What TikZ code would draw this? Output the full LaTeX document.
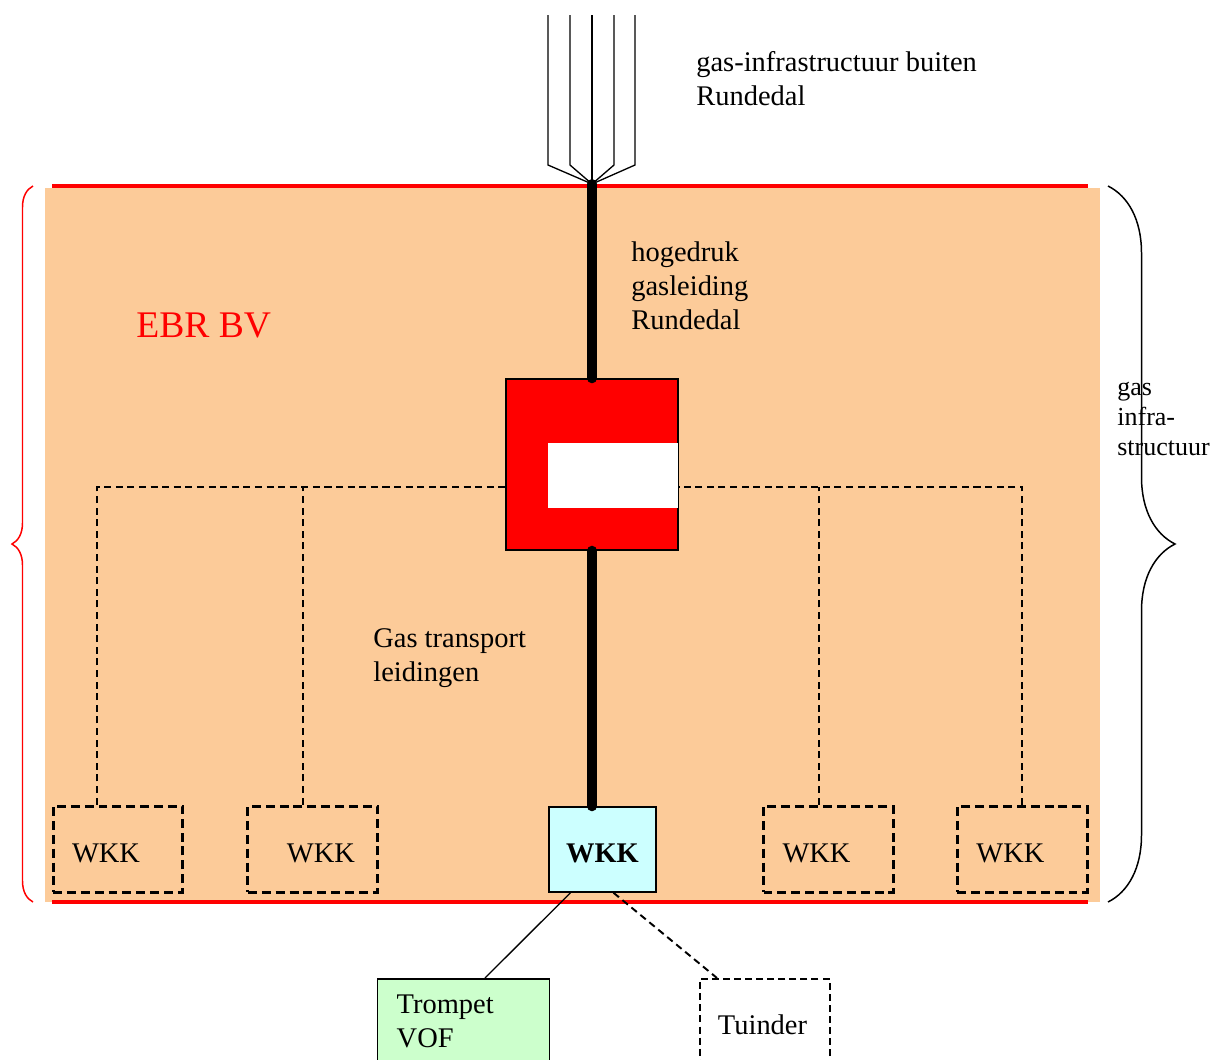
\documentclass[tikz,border=0pt]{standalone}
\usepackage{fontspec}
\setmainfont{Liberation Serif}
\usetikzlibrary{calc}
\usetikzlibrary{positioning}
\usetikzlibrary{decorations.pathreplacing}
\definecolor{ebrorange}{RGB}{252,203,153}
\definecolor{wkkcyan}{RGB}{204,255,255}
\definecolor{clientgreen}{RGB}{204,255,204}
\newcommand{\widthwkk}{2.6cm}
\newcommand{\heightwkk}{1.72cm}
\newcommand{\widthstation}{3.44cm}
\newcommand{\sizetext}{\fontsize{16.2}{19.3}\selectfont}
\newcommand{\sizesmall}{\fontsize{14.8}{17}\selectfont}
\tikzset{
    common/.style={draw, rectangle, line width=0.85pt, inner ysep=0pt},
    wkk/.style={common, line width=1.7pt, dash pattern=on 5.1pt off 2.8pt, font=\sizetext, text height=0.53cm,
        minimum width=\widthwkk, minimum height=\heightwkk, inner xsep=0.38cm, text width=1.84cm, align=left},
    wkkmain/.style={common, fill=wkkcyan, font=\sizetext\bfseries, text height=0.53cm,
        minimum width=2.14cm, minimum height=1.7cm},
    station/.style={common, fill=red, minimum width=\widthstation, minimum height=3.42cm},
    client/.style={common, font=\sizetext, anchor=north west, align=left},
    remark/.style={inner sep=0pt, font=\sizetext, align=left, anchor=base west},
    boundary/.style={red, line width=2.8pt},
    thinpipe/.style={line width=0.75pt},
    hdpipe/.style={line width=5.7pt, line cap=round},
    transport/.style={line width=1.1pt, dash pattern=on 4pt off 2.6pt},
}
\begin{document}
\begin{tikzpicture}[x=0.02cm, y=0.02cm]
    \useasboundingbox (0,0) rectangle (1213,-1059);
    % EBR BV area
    \fill[ebrorange] (45,-188) rectangle (1100,-902);
    \draw[boundary] (52,-186) -- (1088,-186);
    \draw[boundary] (52,-902) -- (1088,-902);
    \draw[red, line width=0.85pt, decorate, decoration={brace, amplitude=0.42cm}] (33,-902) -- (33,-186);
    \draw[line width=0.85pt, decorate, decoration={brace, amplitude=1.34cm}] (1108,-186) -- (1108,-902);

    % incoming pipes
    \coordinate (inlet) at (592,-184);
    \foreach \x in {548,570,614,635} {
        \draw[thinpipe] (\x,-15) -- (\x,-165) -- (inlet);
    }
    \draw[thinpipe] (592,-15) -- (inlet);

    \node[station] (station) at (592,-464.5) {};
    \node[fill=white, inner sep=0pt, minimum width=2.6cm, minimum height=1.3cm, anchor=east] (window)
        at ($(station.east)+(0,-11)$) {};

    \node[wkk] (wkk1) at (118,-849) {WKK};
    \node[wkk, right=1.24cm of wkk1] (wkk2) {\hspace*{0.4cm}WKK};
    \node[wkkmain] (wkkmain) at (602.5,-849.5) {WKK};
    \node[wkk] (wkk4) at (828.5,-849) {WKK};
    \node[wkk, right=1.22cm of wkk4] (wkk5) {WKK};

    \node[client, fill=clientgreen, minimum width=\widthstation, minimum height=1.7cm,
        inner xsep=0.38cm, text width=2.68cm] (trompet) at (377,-978) {Trompet\\VOF};
    \node[client, dash pattern=on 4pt off 2.3pt, line width=1.1pt, minimum width=\widthwkk, minimum height=1.82cm,
        inner xsep=0.36cm, text width=1.88cm] (tuinder) at (699,-978) {Tuinder};

    % pipes
    \draw[hdpipe] (inlet) -- (station.north);
    \draw[hdpipe] (station.south) -- (station.south |- wkkmain.north);
    \coordinate (tapwest) at ([yshift=-0.45cm]station.west);
    \coordinate (tapeast) at ([yshift=-0.45cm]station.east);
    \coordinate (tap1) at ([xshift=-0.42cm]wkk1.north);
    \coordinate (tap2) at ([xshift=-0.19cm]wkk2.north);
    \coordinate (tap4) at ([xshift=-0.19cm]wkk4.north);
    \coordinate (tap5) at (wkk5.north);
    \draw[transport] (tap1) |- (tapwest);
    \draw[transport] (tap2) -- (tap2 |- tapwest);
    \draw[transport] (tap5) |- (tapeast);
    \draw[transport] (tap4) -- (tap4 |- tapeast);
    \draw[thinpipe] ([xshift=-0.64cm]wkkmain.south) -- ([xshift=2.16cm]trompet.north west);
    \draw[transport] ([xshift=0.22cm]wkkmain.south) -- ([xshift=0.36cm]tuinder.north west);

    % texts
    \node[remark] (outside) at (696,-105) {gas-infrastructuur buiten\\Rundedal};
    \node[remark] (highpressure) at (631,-329) {hogedruk\\gasleiding\\Rundedal};
    \node[remark, red, font=\fontsize{21.4}{25}\selectfont] (ebr) at (136,-337) {EBR BV};
    \node[remark] (transporttext) at (373,-681) {Gas transport\\leidingen};
    \node[remark, font=\sizesmall] (infra) at (1117,-455) {gas\\infra-\\structuur};
\end{tikzpicture}
\end{document}
